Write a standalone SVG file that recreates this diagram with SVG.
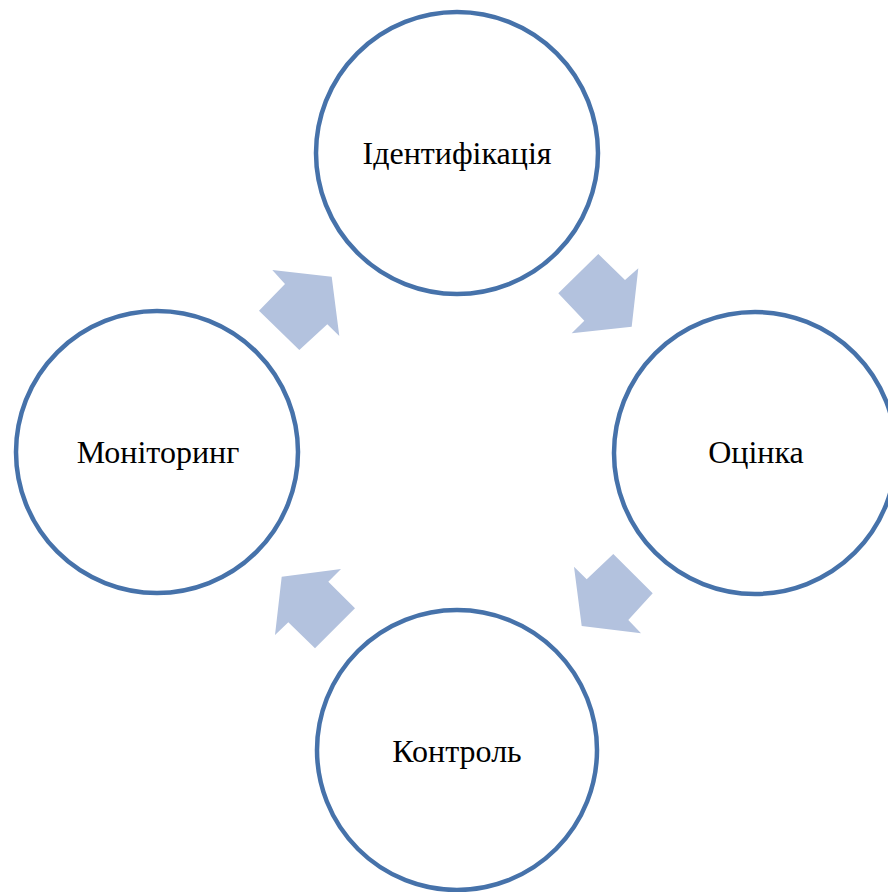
<svg xmlns="http://www.w3.org/2000/svg" width="888" height="892" viewBox="0 0 888 892">
<style>
.c{fill:#fff;stroke:#4672AA;stroke-width:4.5}
.a{fill:#B3C2DE}
.t{font-family:"Liberation Serif","Times New Roman",serif;font-size:32px;fill:#000;text-anchor:middle}
</style>
<rect width="888" height="892" fill="#fff"/>
<g id="connectors">
<polygon class="a" points="272.3,270 331.7,276.7 339.3,336 327.3,324.3 299.3,350 259,310.7 285,284"/>
<polygon class="a" points="598.3,254 625,280 638.3,268.3 631.7,326.7 571.7,333.3 584.3,320.7 558.3,293.3"/>
<polygon class="a" points="613.3,554 652.7,593.3 628.3,620 641,633.3 581.7,626 574,566.7 586.7,579.3"/>
<polygon class="a" points="281.7,576.7 341,569 328.3,581.7 355,608.3 315,648.3 288.3,622.3 275,635"/>
</g>
<g id="node-identification">
<circle class="c" cx="457" cy="153" r="141"/>
<text class="t" x="457" y="164">Ідентифікація</text>
</g>
<g id="node-assessment">
<circle class="c" cx="755" cy="453" r="141"/>
<text class="t" x="756" y="463">Оцінка</text>
</g>
<g id="node-control">
<circle class="c" cx="457" cy="750" r="140"/>
<text class="t" x="457" y="762">Контроль</text>
</g>
<g id="node-monitoring">
<circle class="c" cx="157" cy="452" r="141"/>
<text class="t" x="158" y="463">Моніторинг</text>
</g>
</svg>
